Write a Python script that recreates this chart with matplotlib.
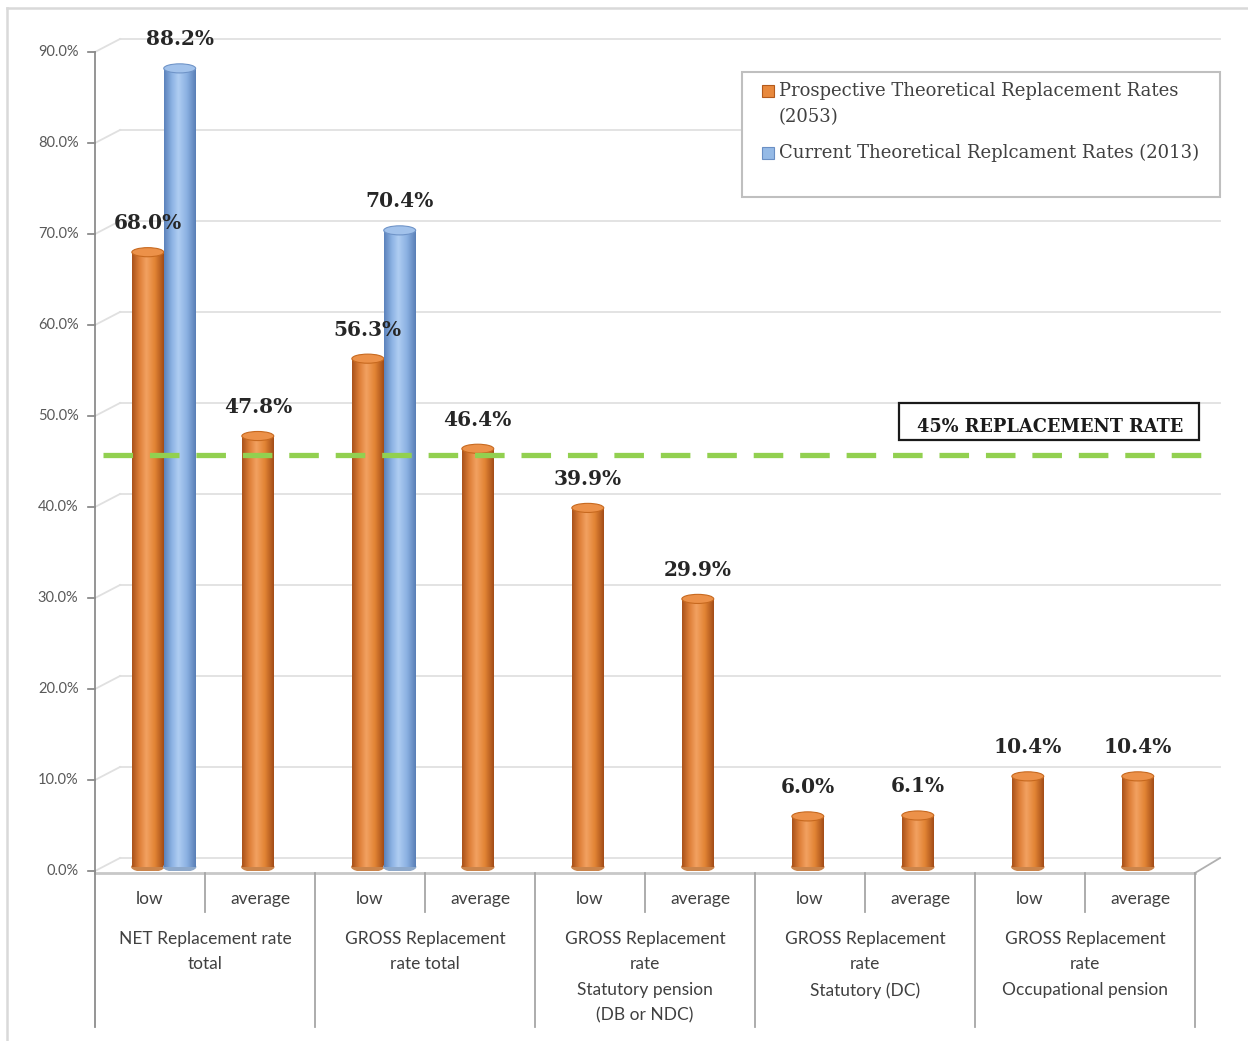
import numpy as np
import matplotlib
matplotlib.use("Agg")
import matplotlib.pyplot as plt
from matplotlib.patches import Ellipse, Rectangle
from matplotlib.colors import to_rgb
from matplotlib.lines import Line2D
import matplotlib.transforms as mtransforms

# data
groups = ["NET Replacement rate\ntotal",
          "GROSS Replacement\nrate total",
          "GROSS Replacement\nrate\nStatutory pension\n(DB or NDC)",
          "GROSS Replacement\nrate\nStatutory (DC)",
          "GROSS Replacement\nrate\nOccupational pension"]
levels = ["low", "average"]
prospective = [68.0, 47.8, 56.3, 46.4, 39.9, 29.9, 6.0, 6.1, 10.4, 10.4]
current = [88.2, np.nan, 70.4, np.nan, np.nan, np.nan, np.nan, np.nan, np.nan, np.nan]
yticks = [0, 10, 20, 30, 40, 50, 60, 70, 80, 90]
threshold = 45
series_names = ["Prospective Theoretical Replacement Rates\n(2053)",
                "Current Theoretical Replcament Rates (2013)"]

W, H = 1248, 1041
fig = plt.figure(figsize=(W / 100, H / 100), dpi=100)
ax = fig.add_axes([95 / W, 170 / H, 1100 / W, 819 / H])
ax.set_xlim(-0.5, 9.5)
ax.set_ylim(0, 90)
ax.axis("off")

SERIF = "DejaVu Serif"
SANS = "Lato"
grid_c = "#E0E0E0"
axis_c = "#A6A6A6"

# depth offset of the back wall (data units)
dx, dy = 25 / 110, 13 / 9.1


def px(x, y):
    return x / W, 1 - y / H


# back wall gridlines and the short diagonals joining the front ticks
for v in yticks:
    ax.plot([-0.5 + dx, 9.5 + dx], [v + dy, v + dy], color=grid_c, lw=1.3,
            clip_on=False, zorder=1)
    ax.plot([-0.5, -0.5 + dx], [v, v + dy], color=grid_c, lw=1.3,
            clip_on=False, zorder=1)
    ax.plot([-0.56, -0.5], [v, v], color="#808080", lw=1.2, clip_on=False, zorder=2)
    ax.text(-0.65, v, f"{v:.1f}%", ha="right", va="center", fontsize=10.5,
            family=SANS, color="#595959")

# floor edges
fl = -0.22
ax.plot([-0.5, 9.5], [fl, fl], color="#C8C8C8", lw=2, clip_on=False, zorder=1)
ax.plot([9.5, 9.5 + dx], [fl, dy], color="#B0B0B0", lw=1.3, clip_on=False, zorder=1)

# y axis line continuing into the category table
ax.plot([-0.5, -0.5], [90, -17.1], color="#8C8C8C", lw=1.3, clip_on=False, zorder=2)
for k in range(1, 11):
    bottom = -17.1 if k % 2 == 0 else -4.5
    ax.plot([k - 0.5, k - 0.5], [fl, bottom], color=axis_c, lw=1.3, clip_on=False)

for i in range(10):
    ax.text(i, -3.05, levels[i % 2], ha="center", va="center", fontsize=12.5,
            family=SANS, color="#404040")
for g, name in enumerate(groups):
    ax.text(2 * g + 0.5, -6.6, name, ha="center", va="top", fontsize=12.5,
            family=SANS, color="#404040", linespacing=1.72)


def gradient(stops, n=64):
    pos = [p for p, _ in stops]
    cols = np.array([to_rgb(c) for _, c in stops])
    t = np.linspace(0, 1, n)
    return np.stack([np.interp(t, pos, cols[:, k]) for k in range(3)], axis=1)[None]


orange_grad = gradient([(0, "#A9521B"), (0.22, "#DC7D36"), (0.45, "#F2A161"),
                        (0.72, "#E28434"), (1, "#A34D18")])
blue_grad = gradient([(0, "#5C83BC"), (0.25, "#8DB3E4"), (0.45, "#AFCDF2"),
                      (0.72, "#8BB1E2"), (1, "#5A7FB6")])

bw = 0.29
eh = 1.0


def cylinder(x, h, grad, top_c, edge_c, z):
    base = 0.45
    bar = ax.bar(x, h - base, bw, bottom=base, color=to_rgb(top_c), lw=0, zorder=z)[0]
    im = ax.imshow(grad, extent=[x - bw / 2, x + bw / 2, base, h], aspect="auto",
                   zorder=z + 0.1, interpolation="bilinear")
    im.set_clip_path(bar)
    ax.add_patch(Ellipse((x, base), bw, eh, color=grad[0, grad.shape[1] // 2] * 0.85,
                         zorder=z - 0.1))
    ax.add_patch(Ellipse((x, h), bw, eh, facecolor=top_c, edgecolor=edge_c, lw=0.8,
                         zorder=z + 0.2))


def value_label(x, v):
    ax.annotate(f"{v:.1f}%", (x, v), xytext=(0, 21), textcoords="offset points",
                ha="center", va="center", fontsize=14.5, fontweight="bold",
                family=SERIF, color="#262626", zorder=6)


for i, v in enumerate(prospective):
    x = i - 0.02
    cylinder(x, v, orange_grad, "#EC9149", "#C7691F", 3)
    value_label(x, v)

for i, v in enumerate(current):
    if np.isnan(v):
        continue
    x = i + 0.27
    cylinder(x, v, blue_grad, "#A2C2EB", "#6F94C8", 4)
    value_label(x, v)

ax.set_xlim(-0.5, 9.5)
ax.set_ylim(0, 90)

# 45% reference line, drawn at mid depth
mid = mtransforms.offset_copy(ax.transData, fig=fig, x=0, y=6, units="dots")
ax.plot([-0.43, 9.65], [threshold, threshold], color="#92D050", lw=3.8,
        dashes=(5.6, 3.2), transform=mid, clip_on=False, zorder=5,
        solid_capstyle="butt", dash_capstyle="butt")

x0, y0 = px(899, 440)
x1, y1 = px(1199, 403)
fig.add_artist(Rectangle((x0, y0), x1 - x0, y1 - y0, transform=fig.transFigure,
                         facecolor="white", edgecolor="#1A1A1A", lw=1.6, zorder=7))
fig.text(*px(1050, 427), f"{threshold}% REPLACEMENT RATE", ha="center", va="center",
         fontsize=12.8, fontweight="bold", family=SERIF, color="#1A1A1A", zorder=8)

# legend box
x0, y0 = px(742, 197)
x1, y1 = px(1220, 72)
fig.add_artist(Rectangle((x0, y0), x1 - x0, y1 - y0, transform=fig.transFigure,
                         facecolor="white", edgecolor="#BFBFBF", lw=1.5, zorder=7))
for (yy, ty), name, col, ec in [((91, 82), series_names[0], "#E8893D", "#B35A1C"),
                                ((153, 144), series_names[1], "#95BAE6", "#6A8FC4")]:
    sx, sy = px(762, yy + 6)
    fig.add_artist(Rectangle((sx, sy), 12 / W, 12 / H, transform=fig.transFigure,
                             facecolor=col, edgecolor=ec, lw=0.8, zorder=8))
    fig.text(*px(779, ty), name, ha="left", va="top", fontsize=13, family=SERIF,
             color="#404040", linespacing=1.55, zorder=8)

# outer frame
fig.add_artist(Line2D([7 / W, 1], [1 - 8 / H, 1 - 8 / H], transform=fig.transFigure,
                      color="#D9D9D9", lw=1.8))
fig.add_artist(Line2D([7 / W, 7 / W], [0, 1 - 8 / H], transform=fig.transFigure,
                      color="#D9D9D9", lw=1.8))

fig.savefig("out.png", dpi=100, facecolor="white")
